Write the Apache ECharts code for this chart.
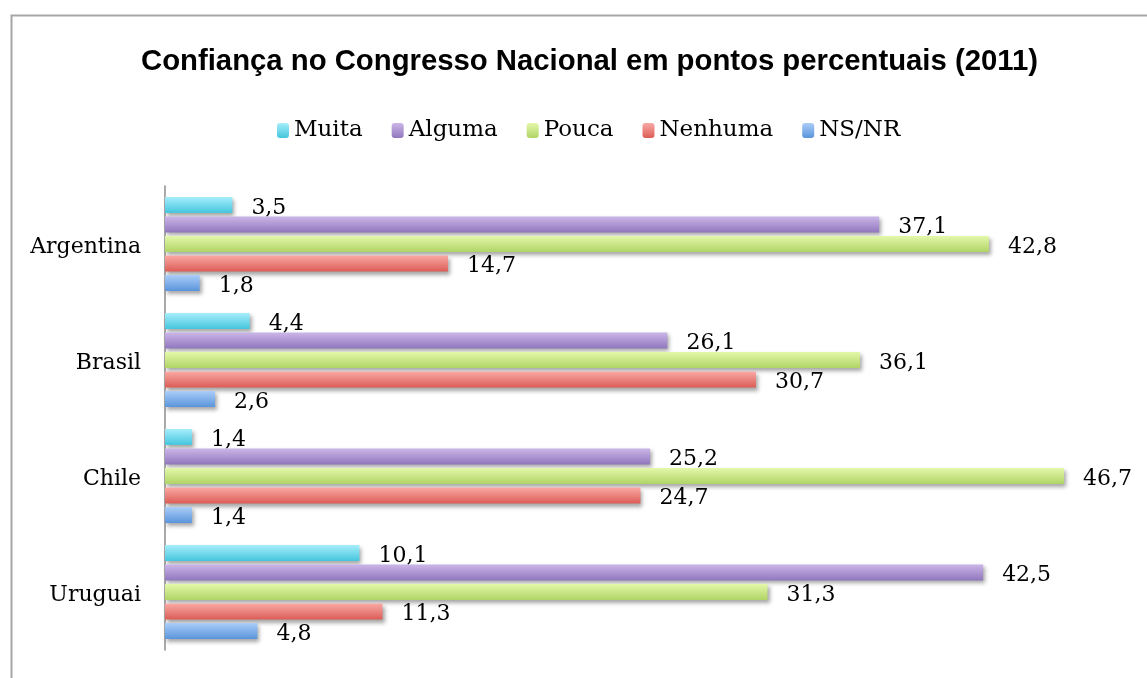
<!DOCTYPE html>
<html>
<head>
<meta charset="utf-8">
<script src="https://cdn.jsdelivr.net/npm/echarts@6/dist/echarts.min.js"></script>
<style>
  html, body { margin: 0; padding: 0; background: #fff; }
  #chart { width: 1147px; height: 678px; }
</style>
</head>
<body>
<div id="chart"></div>
<script>
const countries = ['Argentina', 'Brasil', 'Chile', 'Uruguai']
const seriesNames = ['Muita', 'Alguma', 'Pouca', 'Nenhuma', 'NS/NR']
const muita = [3.5, 4.4, 1.4, 10.1]
const alguma = [37.1, 26.1, 25.2, 42.5]
const pouca = [42.8, 36.1, 46.7, 31.3]
const nenhuma = [14.7, 30.7, 24.7, 11.3]
const nsnr = [1.8, 2.6, 1.4, 4.8]
const values = [muita, alguma, pouca, nenhuma, nsnr]
// light (top) / dark (bottom) of each bar gradient
const colorTop = ['#a6eefb', '#cbb6e8', '#e4f8aa', '#f9a9a5', '#aacdf8']
const colorBottom = ['#45c5dd', '#9077bd', '#b0d466', '#dc5d56', '#5a94db']

const chart = echarts.init(document.getElementById('chart'))
window.onresize = () => chart.resize()

const serif = 'DejaVu Serif'

const option = {
  backgroundColor: '#fff',
  animation: false,
  title: {
    text: 'Confiança no Congresso Nacional em pontos percentuais (2011)',
    left: 136,
    top: 42,
    textStyle: {
      fontFamily: 'Liberation Sans',
      fontWeight: 'bold',
      fontSize: 29.3,
      color: '#000'
    }
  },
  legend: {
    top: 114,
    left: 272,
    data: seriesNames,
    itemWidth: 12,
    itemHeight: 15,
    itemGap: 29,
    textStyle: { fontFamily: serif, fontSize: 23, color: '#000' }
  },
  graphic: [
    {
      type: 'rect',
      left: 9,
      top: 13,
      shape: { width: 1200, height: 700 },
      style: { fill: 'none', stroke: '#a6a6a6', lineWidth: 2 },
      silent: true
    }
  ],
  grid: {
    left: 165,
    top: 186,
    width: 962.5,
    height: 464
  },
  xAxis: {
    type: 'value',
    min: 0,
    max: 50,
    show: false
  },
  yAxis: {
    type: 'category',
    inverse: true,
    data: countries,
    axisLine: { lineStyle: { color: '#8c8c8c', width: 1.5 } },
    axisTick: { show: false },
    axisLabel: {
      margin: 24,
      formatter: v => '{c|' + v + '}',
      rich: {
        c: {
          fontFamily: serif,
          fontSize: 22,
          color: '#000',
          padding: [7, 0, 0, 0]
        }
      }
    }
  },
  series: seriesNames.map((name, i) => ({
    name: name,
    type: 'bar',
    barWidth: 16,
    barGap: '22%',
    data: values[i],
    itemStyle: {
      color: new echarts.graphic.LinearGradient(0, 0, 0, 1, [
        { offset: 0, color: colorTop[i] },
        { offset: 1, color: colorBottom[i] }
      ]),
      shadowColor: 'rgba(0,0,0,0.35)',
      shadowBlur: 4,
      shadowOffsetX: 2,
      shadowOffsetY: 3
    },
    label: {
      show: true,
      position: 'right',
      distance: 19,
      offset: [0, 3],
      fontFamily: serif,
      fontSize: 22,
      color: '#000',
      formatter: p => String(p.value).replace('.', ',')
    }
  }))
}
chart.setOption(option)
</script>
</body>
</html>
